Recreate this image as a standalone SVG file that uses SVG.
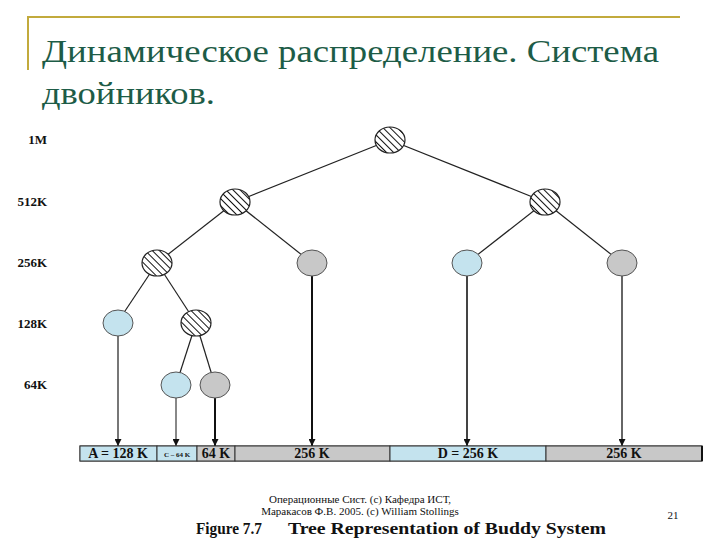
<svg xmlns="http://www.w3.org/2000/svg" width="720" height="540" viewBox="0 0 720 540">
<defs>
<pattern id="hatch" patternUnits="userSpaceOnUse" width="5" height="5" patternTransform="rotate(-45)">
<rect width="5" height="5" fill="#fff"/>
<line x1="0" y1="0" x2="0" y2="5" stroke="#111" stroke-width="2"/>
</pattern>
<marker id="arr" viewBox="0 0 10 10" refX="10" refY="5" markerWidth="7" markerHeight="7" orient="auto" markerUnits="userSpaceOnUse">
<path d="M0,0 L10,5 L0,10 z" fill="#111"/>
</marker>
<style>
.title{font-family:"Liberation Serif",serif;font-size:32px;fill:#1d5c47}
.lvl{font-family:"Liberation Serif",serif;font-size:13px;font-weight:bold;fill:#111;text-anchor:end}
.edge{stroke:#222;stroke-width:1.2;fill:none}
.drop{stroke-width:2;fill:none;marker-end:url(#arr)}
.hat{fill:url(#hatch);stroke:#222;stroke-width:1.2}
.blue{fill:#c4e3ee;stroke:#555;stroke-width:1}
.gray{fill:#c8c8c8;stroke:#555;stroke-width:1}
.seg{stroke:#333;stroke-width:1}
.bl{font-family:"Liberation Serif",serif;font-size:14px;font-weight:bold;fill:#111;text-anchor:middle}
.foot{font-family:"Liberation Serif",serif;font-size:11px;fill:#111;text-anchor:middle}
.fig{font-family:"Liberation Serif",serif;font-size:17px;font-weight:bold;fill:#111}
</style>
</defs>
<rect width="720" height="540" fill="#fff"/>
<g id="frame">
<line x1="28" y1="17" x2="680" y2="17" stroke="#c2aa3c" stroke-width="2"/>
<line x1="28" y1="16" x2="28" y2="70" stroke="#c2aa3c" stroke-width="2"/>
</g>
<g id="title">
<text class="title" x="42" y="62" textLength="617" lengthAdjust="spacingAndGlyphs">Динамическое распределение. Система</text>
<text class="title" x="42" y="104" textLength="173" lengthAdjust="spacingAndGlyphs">двойников.</text>
</g>
<g id="levels">
<text class="lvl" x="47" y="144">1M</text>
<text class="lvl" x="47" y="206">512K</text>
<text class="lvl" x="47" y="267">256K</text>
<text class="lvl" x="47" y="328">128K</text>
<text class="lvl" x="47" y="389">64K</text>
</g>
<g id="connectors">
<line class="edge" x1="390" y1="140" x2="235" y2="202"/>
<line class="edge" x1="390" y1="140" x2="545" y2="202"/>
<line class="edge" x1="235" y1="202" x2="157" y2="263"/>
<line class="edge" x1="235" y1="202" x2="312" y2="263"/>
<line class="edge" x1="545" y1="202" x2="467" y2="263"/>
<line class="edge" x1="545" y1="202" x2="622" y2="263"/>
<line class="edge" x1="157" y1="263" x2="117" y2="323"/>
<line class="edge" x1="157" y1="263" x2="196" y2="323"/>
<line class="edge" x1="196" y1="323" x2="176" y2="385"/>
<line class="edge" x1="196" y1="323" x2="215" y2="385"/>
<line class="drop" x1="118" y1="336" x2="118" y2="446" stroke="#777"/>
<line class="drop" x1="176" y1="398" x2="176" y2="446" stroke="#888"/>
<line class="drop" x1="215" y1="398" x2="215" y2="446" stroke="#111"/>
<line class="drop" x1="312" y1="276" x2="312" y2="446" stroke="#111"/>
<line class="drop" x1="467" y1="276" x2="467" y2="446" stroke="#444"/>
<line class="drop" x1="622" y1="276" x2="622" y2="446" stroke="#666"/>
</g>
<g id="n-1M"><ellipse class="hat" cx="390" cy="140" rx="15" ry="13"/></g>
<g id="n-512a"><ellipse class="hat" cx="235" cy="202" rx="15" ry="13"/></g>
<g id="n-512b"><ellipse class="hat" cx="545" cy="202" rx="15" ry="13"/></g>
<g id="n-256a"><ellipse class="hat" cx="157" cy="263" rx="15" ry="13"/></g>
<g id="n-256b"><ellipse class="gray" cx="312" cy="263" rx="15" ry="13"/></g>
<g id="n-256c"><ellipse class="blue" cx="467" cy="263" rx="15" ry="13"/></g>
<g id="n-256d"><ellipse class="gray" cx="622" cy="263" rx="15" ry="13"/></g>
<g id="n-128a"><ellipse class="blue" cx="118" cy="323" rx="15" ry="13"/></g>
<g id="n-128b"><ellipse class="hat" cx="196" cy="323" rx="15" ry="13"/></g>
<g id="n-64a"><ellipse class="blue" cx="176" cy="385" rx="15" ry="13"/></g>
<g id="n-64b"><ellipse class="gray" cx="215" cy="385" rx="15" ry="13"/></g>
<g id="memory">
<rect x="80" y="446" width="622" height="15" fill="#c8c8c8" stroke="#333" stroke-width="1"/>
<rect class="seg" x="80" y="446" width="77" height="15" fill="#c4e3ee"/>
<rect class="seg" x="157" y="446" width="40" height="15" fill="#c4e3ee"/>
<rect class="seg" x="197" y="446" width="38" height="15" fill="#c8c8c8"/>
<rect class="seg" x="235" y="446" width="155" height="15" fill="#c8c8c8"/>
<rect class="seg" x="390" y="446" width="156" height="15" fill="#c4e3ee"/>
<rect class="seg" x="546" y="446" width="156" height="15" fill="#c8c8c8"/>
<line x1="702" y1="446" x2="702" y2="461" stroke="#111" stroke-width="2"/>
<text class="bl" x="118" y="458">A = 128 K</text>
<text class="bl" x="177" y="457" style="font-size:7px">C – 64 K</text>
<text class="bl" x="216" y="458">64 K</text>
<text class="bl" x="312" y="458">256 K</text>
<text class="bl" x="468" y="458">D = 256 K</text>
<text class="bl" x="624" y="458">256 K</text>
</g>
<g id="caption">
<text class="fig" x="196" y="534" textLength="66" lengthAdjust="spacingAndGlyphs">Figure 7.7</text>
<text class="fig" x="288" y="534" textLength="318" lengthAdjust="spacingAndGlyphs">Tree Representation of Buddy System</text>
<text class="foot" x="360" y="503">Операционные Сист. (c) Кафедра ИСТ,</text>
<text class="foot" x="360" y="515">Маракасов Ф.В. 2005. (c) William Stollings</text>
<text class="foot" x="673" y="519">21</text>
</g>
</svg>
